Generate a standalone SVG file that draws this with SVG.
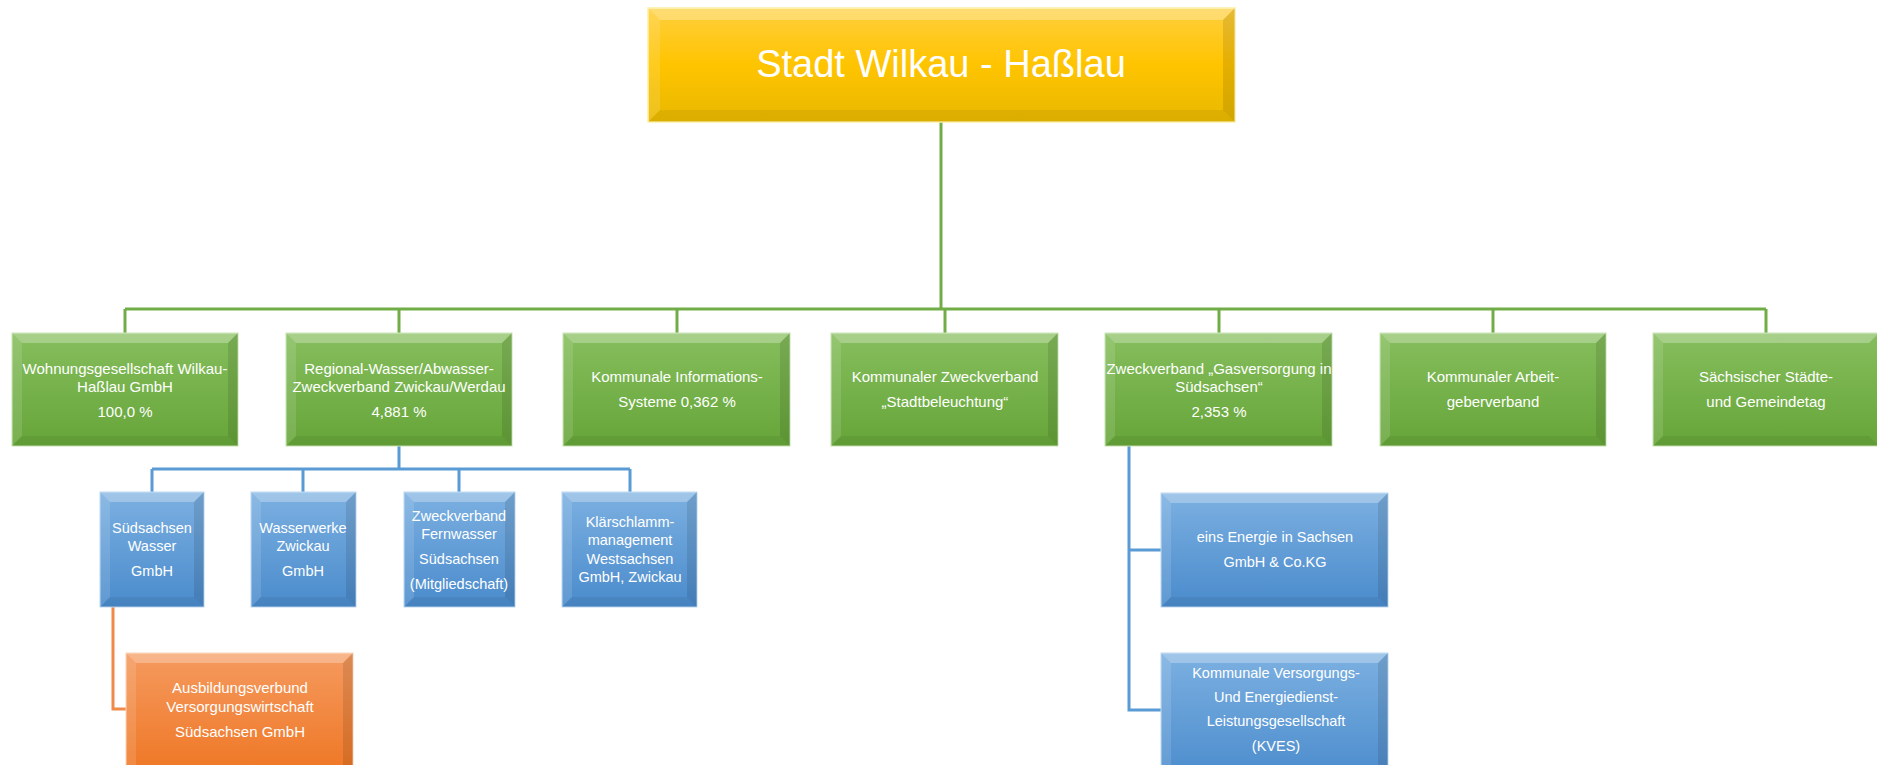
<svg xmlns="http://www.w3.org/2000/svg" width="1877" height="765" viewBox="0 0 1877 765">
<defs>
<linearGradient id="gY" x1="0" y1="0" x2="0" y2="1"><stop offset="0" stop-color="#ffcf3e"/><stop offset="0.5" stop-color="#ffc400"/><stop offset="1" stop-color="#e8b800"/></linearGradient>
<linearGradient id="gG" x1="0" y1="0" x2="0" y2="1"><stop offset="0" stop-color="#86be5d"/><stop offset="1" stop-color="#66a539"/></linearGradient>
<linearGradient id="gB" x1="0" y1="0" x2="0" y2="1"><stop offset="0" stop-color="#7cb0e1"/><stop offset="1" stop-color="#4a8bcc"/></linearGradient>
<linearGradient id="gO" x1="0" y1="0" x2="0" y2="1"><stop offset="0" stop-color="#f59a5f"/><stop offset="1" stop-color="#ee7420"/></linearGradient>
</defs>
<style>
.y{fill:url(#gY);stroke:#fff1a0;stroke-width:1.5}
.g{fill:url(#gG);stroke:#c9e4b4;stroke-width:1}
.b{fill:url(#gB);stroke:#bcd8f1;stroke-width:1}
.o{fill:url(#gO);stroke:#fbd3b5;stroke-width:1}
.hl{fill:#ffffff;opacity:0.28}
.hs{fill:#ffffff;opacity:0.12}
.dk{fill:#000000;opacity:0.10}
.db{fill:#000000;opacity:0.06}
text{font-family:"Liberation Sans",Arial,sans-serif;fill:#ffffff;text-anchor:middle}
.t1{font-size:38px}
.tg{font-size:15px}
.tb{font-size:14.5px}
.lg{stroke:#70ad47;stroke-width:3;fill:none}
.lb{stroke:#5b9bd5;stroke-width:3;fill:none}
.lo{stroke:#ef8a4a;stroke-width:3;fill:none}
</style>

<g id="connectors">
<path class="lg" d="M941 122V309M125 309H1766M125 309V333M399 309V333M677 309V333M945 309V333M1219 309V333M1493 309V333M1766 309V333"/>
<path class="lb" d="M399 446V469M152 469H630M152 469V492M303 469V492M459 469V492M630 469V492"/>
<path class="lo" d="M113 607V709H126"/>
<path class="lb" d="M1129 446V710H1161M1129 550H1161"/>
</g>

<g id="n-stadt">
<rect class="y" x="648" y="8" width="587" height="114"/>
<polygon class="hl" points="648,8 1235,8 1223,20 660,20"/>
<polygon class="hs" points="648,8 660,20 660,110 648,122"/>
<polygon class="dk" points="1235,8 1235,122 1223,110 1223,20"/>
<polygon class="db" points="648,122 660,110 1223,110 1235,122"/>
<text class="t1" x="941" y="77">Stadt Wilkau - Haßlau</text>
</g>

<g id="n-wohnung">
<rect class="g" x="12" y="333" width="226" height="113"/>
<polygon class="hl" points="12,333 238,333 228,343 22,343"/>
<polygon class="hs" points="12,333 22,343 22,436 12,446"/>
<polygon class="dk" points="238,333 238,446 228,436 228,343"/>
<polygon class="db" points="12,446 22,436 228,436 238,446"/>
<text class="tg" x="125" y="374">Wohnungsgesellschaft Wilkau-</text>
<text class="tg" x="125" y="392">Haßlau GmbH</text>
<text class="tg" x="125" y="417">100,0 %</text>
</g>

<g id="n-regional">
<rect class="g" x="286" y="333" width="226" height="113"/>
<polygon class="hl" points="286,333 512,333 502,343 296,343"/>
<polygon class="hs" points="286,333 296,343 296,436 286,446"/>
<polygon class="dk" points="512,333 512,446 502,436 502,343"/>
<polygon class="db" points="286,446 296,436 502,436 512,446"/>
<text class="tg" x="399" y="374">Regional-Wasser/Abwasser-</text>
<text class="tg" x="399" y="392">Zweckverband Zwickau/Werdau</text>
<text class="tg" x="399" y="417">4,881 %</text>
</g>

<g id="n-kis">
<rect class="g" x="563" y="333" width="227" height="113"/>
<polygon class="hl" points="563,333 790,333 780,343 573,343"/>
<polygon class="hs" points="563,333 573,343 573,436 563,446"/>
<polygon class="dk" points="790,333 790,446 780,436 780,343"/>
<polygon class="db" points="563,446 573,436 780,436 790,446"/>
<text class="tg" x="677" y="382">Kommunale Informations-</text>
<text class="tg" x="677" y="407">Systeme 0,362 %</text>
</g>

<g id="n-stadtbeleuchtung">
<rect class="g" x="831" y="333" width="227" height="113"/>
<polygon class="hl" points="831,333 1058,333 1048,343 841,343"/>
<polygon class="hs" points="831,333 841,343 841,436 831,446"/>
<polygon class="dk" points="1058,333 1058,446 1048,436 1048,343"/>
<polygon class="db" points="831,446 841,436 1048,436 1058,446"/>
<text class="tg" x="945" y="382">Kommunaler Zweckverband</text>
<text class="tg" x="945" y="407">„Stadtbeleuchtung“</text>
</g>

<g id="n-gas">
<rect class="g" x="1105" y="333" width="227" height="113"/>
<polygon class="hl" points="1105,333 1332,333 1322,343 1115,343"/>
<polygon class="hs" points="1105,333 1115,343 1115,436 1105,446"/>
<polygon class="dk" points="1332,333 1332,446 1322,436 1322,343"/>
<polygon class="db" points="1105,446 1115,436 1322,436 1332,446"/>
<text class="tg" x="1219" y="374">Zweckverband „Gasversorgung in</text>
<text class="tg" x="1219" y="392">Südsachsen“</text>
<text class="tg" x="1219" y="417">2,353 %</text>
</g>

<g id="n-arbeitgeber">
<rect class="g" x="1380" y="333" width="226" height="113"/>
<polygon class="hl" points="1380,333 1606,333 1596,343 1390,343"/>
<polygon class="hs" points="1380,333 1390,343 1390,436 1380,446"/>
<polygon class="dk" points="1606,333 1606,446 1596,436 1596,343"/>
<polygon class="db" points="1380,446 1390,436 1596,436 1606,446"/>
<text class="tg" x="1493" y="382">Kommunaler Arbeit-</text>
<text class="tg" x="1493" y="407">geberverband</text>
</g>

<g id="n-staedtetag">
<rect class="g" x="1653" y="333" width="226" height="113"/>
<polygon class="hl" points="1653,333 1879,333 1869,343 1663,343"/>
<polygon class="hs" points="1653,333 1663,343 1663,436 1653,446"/>
<polygon class="db" points="1653,446 1663,436 1869,436 1879,446"/>
<text class="tg" x="1766" y="382">Sächsischer Städte-</text>
<text class="tg" x="1766" y="407">und Gemeindetag</text>
</g>

<g id="n-suedsachsenwasser">
<rect class="b" x="100" y="492" width="104" height="115"/>
<polygon class="hl" points="100,492 204,492 194,502 110,502"/>
<polygon class="hs" points="100,492 110,502 110,597 100,607"/>
<polygon class="dk" points="204,492 204,607 194,597 194,502"/>
<polygon class="db" points="100,607 110,597 194,597 204,607"/>
<text class="tb" x="152" y="533">Südsachsen</text>
<text class="tb" x="152" y="551">Wasser</text>
<text class="tb" x="152" y="576">GmbH</text>
</g>

<g id="n-wasserwerke">
<rect class="b" x="251" y="492" width="105" height="115"/>
<polygon class="hl" points="251,492 356,492 346,502 261,502"/>
<polygon class="hs" points="251,492 261,502 261,597 251,607"/>
<polygon class="dk" points="356,492 356,607 346,597 346,502"/>
<polygon class="db" points="251,607 261,597 346,597 356,607"/>
<text class="tb" x="303" y="533">Wasserwerke</text>
<text class="tb" x="303" y="551">Zwickau</text>
<text class="tb" x="303" y="576">GmbH</text>
</g>

<g id="n-fernwasser">
<rect class="b" x="404" y="492" width="111" height="115"/>
<polygon class="hl" points="404,492 515,492 505,502 414,502"/>
<polygon class="hs" points="404,492 414,502 414,597 404,607"/>
<polygon class="dk" points="515,492 515,607 505,597 505,502"/>
<polygon class="db" points="404,607 414,597 505,597 515,607"/>
<text class="tb" x="459" y="521">Zweckverband</text>
<text class="tb" x="459" y="539">Fernwasser</text>
<text class="tb" x="459" y="564">Südsachsen</text>
<text class="tb" x="459" y="589">(Mitgliedschaft)</text>
</g>

<g id="n-klaerschlamm">
<rect class="b" x="562" y="492" width="135" height="115"/>
<polygon class="hl" points="562,492 697,492 687,502 572,502"/>
<polygon class="hs" points="562,492 572,502 572,597 562,607"/>
<polygon class="dk" points="697,492 697,607 687,597 687,502"/>
<polygon class="db" points="562,607 572,597 687,597 697,607"/>
<text class="tb" x="630" y="527">Klärschlamm-</text>
<text class="tb" x="630" y="545">management</text>
<text class="tb" x="630" y="564">Westsachsen</text>
<text class="tb" x="630" y="582">GmbH, Zwickau</text>
</g>

<g id="n-ausbildung">
<rect class="o" x="126" y="653" width="227" height="130"/>
<polygon class="hl" points="126,653 353,653 343,663 136,663"/>
<polygon class="hs" points="126,653 136,663 136,783 126,783"/>
<polygon class="dk" points="353,653 353,783 343,783 343,663"/>
<text class="tg" x="240" y="693">Ausbildungsverbund</text>
<text class="tg" x="240" y="712">Versorgungswirtschaft</text>
<text class="tg" x="240" y="737">Südsachsen GmbH</text>
</g>

<g id="n-eins">
<rect class="b" x="1161" y="493" width="227" height="114"/>
<polygon class="hl" points="1161,493 1388,493 1378,503 1171,503"/>
<polygon class="hs" points="1161,493 1171,503 1171,597 1161,607"/>
<polygon class="dk" points="1388,493 1388,607 1378,597 1378,503"/>
<polygon class="db" points="1161,607 1171,597 1378,597 1388,607"/>
<text class="tb" x="1275" y="542">eins Energie in Sachsen</text>
<text class="tb" x="1275" y="567">GmbH &amp; Co.KG</text>
</g>

<g id="n-kves">
<rect class="b" x="1161" y="653" width="227" height="130"/>
<polygon class="hl" points="1161,653 1388,653 1378,663 1171,663"/>
<polygon class="hs" points="1161,653 1171,663 1171,783 1161,783"/>
<polygon class="dk" points="1388,653 1388,783 1378,783 1378,663"/>
<text class="tb" x="1276" y="678">Kommunale Versorgungs-</text>
<text class="tb" x="1276" y="702">Und Energiedienst-</text>
<text class="tb" x="1276" y="726">Leistungsgesellschaft</text>
<text class="tb" x="1276" y="751">(KVES)</text>
</g>
</svg>
